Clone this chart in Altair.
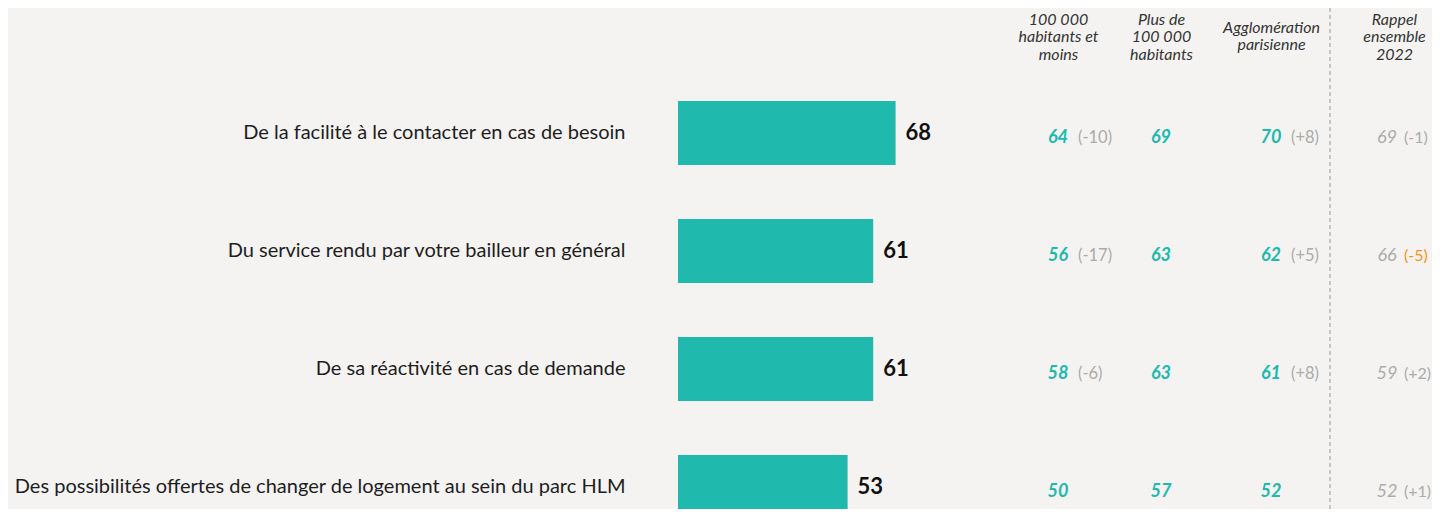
import json
import altair as alt
import pandas as pd

# ---- data ----
items = [
    "De la facilité à le contacter en cas de besoin",
    "Du service rendu par votre bailleur en général",
    "De sa réactivité en cas de demande",
    "Des possibilités offertes de changer de logement au sein du parc HLM",
]
overall = [68, 61, 61, 53]

columns = [
    "100 000|habitants et|moins",
    "Plus de|100 000|habitants",
    "Agglomération|parisienne",
    "Rappel|ensemble|2022",
]
small_towns = [64, 56, 58, 50]
small_towns_delta = ["(-10)", "(-17)", "(-6)", ""]
big_towns = [69, 63, 63, 57]
big_towns_delta = ["", "", "", ""]
paris = [70, 62, 61, 52]
paris_delta = ["(+8)", "(+5)", "(+8)", ""]
recall_2022 = [69, 66, 59, 52]
recall_delta = ["(-1)", "(-5)", "(+2)", "(+1)"]
recall_flag = [False, True, False, False]

# ---- tables ----
main = pd.DataFrame({"item": items, "total": overall})

rows = []
for j, (vals, deltas) in enumerate([
    (small_towns, small_towns_delta),
    (big_towns, big_towns_delta),
    (paris, paris_delta),
    (recall_2022, recall_delta),
]):
    for i, it in enumerate(items):
        rows.append({
            "item": it,
            "col": j,
            "value": vals[i],
            "delta": deltas[i],
            "recall": j == 3,
            "flag": recall_flag[i] if j == 3 else False,
        })
tab = pd.DataFrame(rows)

TEAL = "#20B9AE"
GREY = "#ABABAB"
ORANGE = "#F7941D"
FONT = "Lato"

PLOT_W = 754
PLOT_H = 435

yenc = alt.Y(
    "item:N",
    sort=items,
    scale=alt.Scale(range=[0, 472], paddingInner=0.458, paddingOuter=0.229),
    axis=alt.Axis(
        title=None, ticks=False, domain=False, labelPadding=53,
        labelFont=FONT, labelFontSize=20, labelColor="#1E1E1E", labelLimit=700,
    ),
)

xbar = alt.X("total:Q", scale=alt.Scale(domain=[0, 100], range=[0, 320]), axis=None)

bars = alt.Chart(main).mark_bar(color=TEAL).encode(x=xbar, y=yenc)
bar_labels = alt.Chart(main).mark_text(
    align="left", baseline="middle", dx=10, font=FONT, fontSize=22,
    fontWeight="bold", color="#111111",
).encode(x=xbar, y=yenc, text="total:Q")

# column positions: piecewise linear scale from column index to pixels
col_scale = alt.Scale(domain=[0, 1, 2, 3], range=[380, 483, 593, 716], nice=False, zero=False)
n_lines = "length(split(" + json.dumps(columns) + "[datum.value], '|'))"
x_head = alt.X(
    "col:Q", scale=col_scale,
    axis=alt.Axis(
        orient="top", title=None, ticks=False, tickSize=0, domain=False, grid=False,
        values=[0, 1, 2, 3], labelFlush=False, labelOverlap=False,
        labelAngle=0, labelAlign="center", labelBaseline="middle",
        labelPadding={"condition": {"test": n_lines + " == 2", "value": 47}, "value": 55},
        labelFont=FONT, labelFontStyle="italic",
        labelFontSize=16, labelLineHeight=17.5, labelColor="#333333",
        labelLimit=200,
        labelExpr="split(" + json.dumps(columns) + "[datum.value], '|')",
    ),
)
x_plain = alt.X("col:Q", scale=col_scale, axis=None)

base_tab = alt.Chart(tab)

values_main = base_tab.transform_filter("!datum.recall").mark_text(
    align="center", baseline="middle", dy=5, font=FONT, fontSize=18,
    fontStyle="italic", fontWeight="bold", color=TEAL,
).encode(x=x_head, y=yenc, text="value:Q")

deltas_main = base_tab.transform_filter("!datum.recall").mark_text(
    align="left", baseline="middle", dx=20, dy=5, font=FONT, fontSize=16.5,
    color=GREY,
).encode(x=x_plain, y=yenc, text="delta:N")

values_recall = base_tab.transform_filter("datum.recall").mark_text(
    align="center", baseline="middle", dx=-7, dy=5, font=FONT, fontSize=18,
    fontStyle="italic", color=GREY,
).encode(x=x_plain, y=yenc, text="value:Q")

deltas_recall = base_tab.transform_filter("datum.recall").mark_text(
    align="left", baseline="middle", dx=10, dy=5, font=FONT, fontSize=16,
).encode(
    x=x_plain, y=yenc, text="delta:N",
    color=alt.condition("datum.flag", alt.value(ORANGE), alt.value(GREY)),
)

separator = alt.Chart(alt.Data(values=[{}])).mark_rule(
    color="#999999", strokeDash=[4, 3], strokeWidth=1,
).encode(x=alt.value(652), y=alt.value(-66), y2=alt.value(PLOT_H))

chart = alt.layer(
    bars, bar_labels, values_main, deltas_main, values_recall, deltas_recall, separator,
).resolve_scale(x="independent").properties(
    width=PLOT_W, height=PLOT_H,
    autosize=alt.AutoSizeParams(type="none"),
    padding={"left": 670, "top": 66, "right": 0, "bottom": 0},
).configure(background="#F4F3F1").configure_view(stroke=None)

chart.save("out.html", embed_options={"renderer": "svg", "actions": False})
